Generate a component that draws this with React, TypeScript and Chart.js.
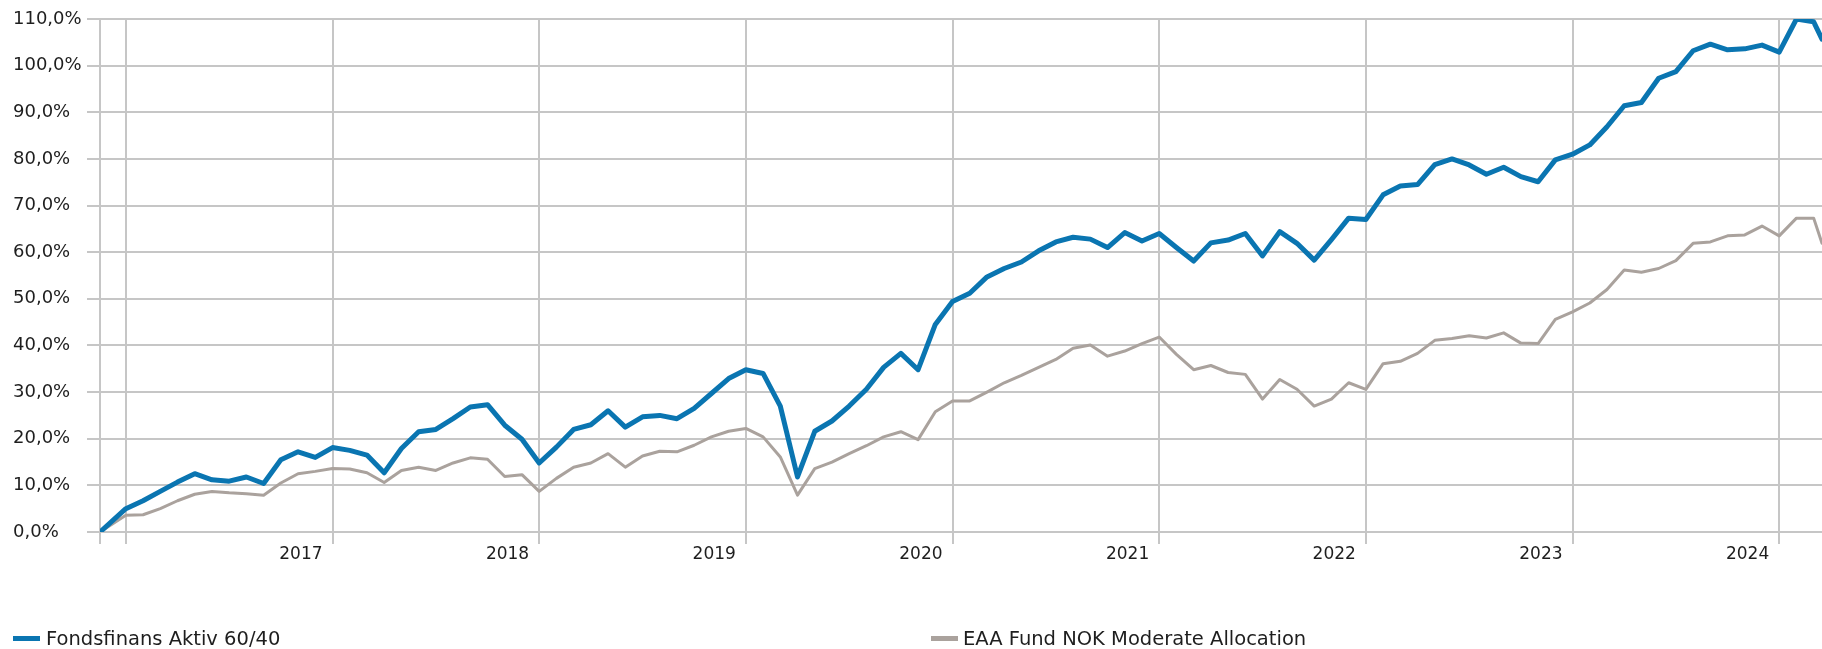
import React, { useEffect, useRef } from 'react';
import { Chart, registerables } from 'chart.js';

Chart.register(...registerables);

// ---- data ----
const seriesNames = ['Fondsfinans Aktiv 60/40', 'EAA Fund NOK Moderate Allocation'];

const dates = [
  '2015-11-15', '2015-12-31',
  '2016-01-31', '2016-02-29', '2016-03-31', '2016-04-30', '2016-05-31', '2016-06-30', '2016-07-31', '2016-08-31', '2016-09-30', '2016-10-31', '2016-11-30', '2016-12-31',
  '2017-01-31', '2017-02-28', '2017-03-31', '2017-04-30', '2017-05-31', '2017-06-30', '2017-07-31', '2017-08-31', '2017-09-30', '2017-10-31', '2017-11-30', '2017-12-31',
  '2018-01-31', '2018-02-28', '2018-03-31', '2018-04-30', '2018-05-31', '2018-06-30', '2018-07-31', '2018-08-31', '2018-09-30', '2018-10-31', '2018-11-30', '2018-12-31',
  '2019-01-31', '2019-02-28', '2019-03-31', '2019-04-30', '2019-05-31', '2019-06-30', '2019-07-31', '2019-08-31', '2019-09-30', '2019-10-31', '2019-11-30', '2019-12-31',
  '2020-01-31', '2020-02-29', '2020-03-31', '2020-04-30', '2020-05-31', '2020-06-30', '2020-07-31', '2020-08-31', '2020-09-30', '2020-10-31', '2020-11-30', '2020-12-31',
  '2021-01-31', '2021-02-28', '2021-03-31', '2021-04-30', '2021-05-31', '2021-06-30', '2021-07-31', '2021-08-31', '2021-09-30', '2021-10-31', '2021-11-30', '2021-12-31',
  '2022-01-31', '2022-02-28', '2022-03-31', '2022-04-30', '2022-05-31', '2022-06-30', '2022-07-31', '2022-08-31', '2022-09-30', '2022-10-31', '2022-11-30', '2022-12-31',
  '2023-01-31', '2023-02-28', '2023-03-31', '2023-04-30', '2023-05-31', '2023-06-30', '2023-07-31', '2023-08-31', '2023-09-30', '2023-10-31', '2023-11-30', '2023-12-31',
  '2024-01-31', '2024-02-29', '2024-03-15',
];

const fondsfinans = [
  0, 5.0,
  6.7, 8.7, 10.7, 12.5, 11.2, 10.9, 11.8, 10.4, 15.5, 17.2, 16.0, 18.1,
  17.5, 16.5, 12.7, 17.9, 21.5, 22.0, 24.3, 26.8, 27.3, 22.9, 19.9, 14.8,
  18.2, 22.0, 23.0, 26.0, 22.5, 24.7, 25.0, 24.3, 26.5, 29.7, 32.9, 34.8,
  34.0, 27.0, 11.8, 21.6, 23.8, 27.0, 30.6, 35.3, 38.3, 34.8, 44.5, 49.4,
  51.2, 54.7, 56.5, 57.9, 60.3, 62.2, 63.2, 62.8, 61.0, 64.2, 62.4, 64.0,
  61.0, 58.1, 62.0, 62.6, 64.0, 59.2, 64.4, 61.9, 58.3, 62.7, 67.3, 67.0,
  72.3, 74.2, 74.5, 78.8, 80.0, 78.7, 76.7, 78.2, 76.2, 75.1, 79.8, 81.0,
  83.0, 86.9, 91.4, 92.1, 97.3, 98.7, 103.2, 104.6, 103.4, 103.6, 104.4, 102.9,
  110.0, 109.4, 105.7,
];

const eaaModerate = [
  0, 3.6,
  3.7, 5.0, 6.7, 8.1, 8.7, 8.4, 8.2, 7.9, 10.5, 12.5, 13.0, 13.6,
  13.5, 12.7, 10.6, 13.2, 13.9, 13.2, 14.8, 15.9, 15.6, 11.9, 12.3, 8.7,
  11.5, 13.9, 14.8, 16.8, 13.9, 16.3, 17.3, 17.2, 18.6, 20.4, 21.6, 22.2,
  20.4, 16.1, 7.9, 13.6, 15.0, 16.8, 18.5, 20.4, 21.5, 19.8, 25.8, 28.1,
  28.1, 30.0, 32.0, 33.6, 35.3, 37.0, 39.4, 40.1, 37.7, 38.8, 40.4, 41.8,
  38.1, 34.8, 35.7, 34.2, 33.8, 28.5, 32.7, 30.6, 27.0, 28.5, 32.0, 30.6,
  36.1, 36.6, 38.3, 41.1, 41.5, 42.1, 41.6, 42.7, 40.5, 40.4, 45.6, 47.2,
  49.1, 52.0, 56.2, 55.7, 56.5, 58.2, 61.9, 62.2, 63.5, 63.7, 65.6, 63.5,
  67.3, 67.3, 61.9,
];

const yearTicks = [2016, 2017, 2018, 2019, 2020, 2021, 2022, 2023, 2024];
const yMin = 0;
const yMax = 110;
const yStep = 10;

// ---- styling ----
const BLUE = '#0a75b1';
const GRAY = '#aaa29d';
const GRID = '#c6c6c6';
const TEXT = '#1e1e1e';
const FONT = "'DejaVu Sans', Verdana, sans-serif";

// months since 2016-01-01 (fractional)
function monthPos(d: string): number {
  const [y, m, day] = d.split('-').map(Number);
  const dim = new Date(Date.UTC(y, m, 0)).getUTCDate();
  return (y - 2016) * 12 + (m - 1) + day / dim;
}

export default function App() {
  const canvasRef = useRef<HTMLCanvasElement | null>(null);

  useEffect(() => {
    document.body.style.margin = '0';
    const canvas = canvasRef.current;
    if (!canvas) return;
    const xs = dates.map(monthPos);
    const xMin = xs[0];
    const xMax = xs[xs.length - 1];

    const chart = new Chart(canvas, {
      type: 'line',
      data: {
        datasets: [
          {
            label: seriesNames[0],
            data: xs.map((x, i) => ({ x, y: fondsfinans[i] })),
            borderColor: BLUE,
            backgroundColor: BLUE,
            borderWidth: 5,
            pointRadius: 0,
            tension: 0,
            borderJoinStyle: 'round',
            borderCapStyle: 'round',
          },
          {
            label: seriesNames[1],
            data: xs.map((x, i) => ({ x, y: eaaModerate[i] })),
            borderColor: GRAY,
            backgroundColor: GRAY,
            borderWidth: 3,
            pointRadius: 0,
            tension: 0,
            borderJoinStyle: 'round',
            borderCapStyle: 'round',
          },
        ],
      },
      options: {
        responsive: false,
        animation: false,
        devicePixelRatio: 1,
        layout: { padding: { left: 13, top: 19, right: 0, bottom: 0 } },
        plugins: { legend: { display: false }, tooltip: { enabled: false } },
        scales: {
          x: {
            type: 'linear',
            min: xMin,
            max: xMax,
            afterBuildTicks: (s: any) => {
              s.ticks = [xMin, ...yearTicks.map((y) => (y - 2016) * 12)].map((v) => ({ value: v }));
            },
            afterFit: (s: any) => {
              s.height = 117;
            },
            grid: { color: GRID, lineWidth: 2, tickLength: 12 },
            border: { display: false },
            ticks: {
              autoSkip: false,
              maxRotation: 0,
              minRotation: 0,
              align: 'end',
              labelOffset: -10,
              padding: 0,
              color: TEXT,
              font: { family: FONT, size: 17 },
              callback: (v: any) => {
                const yr = 2016 + Number(v) / 12;
                return Number.isInteger(yr) && yr > yearTicks[0] ? String(yr) : '';
              },
            },
          },
          y: {
            min: yMin,
            max: yMax,
            afterFit: (s: any) => {
              s.width = 87;
            },
            grid: { color: GRID, lineWidth: 2, tickLength: 13 },
            border: { display: false },
            ticks: {
              stepSize: yStep,
              crossAlign: 'far',
              padding: 0,
              color: TEXT,
              font: { family: FONT, size: 18 },
              callback: (v: any) => Number(v).toFixed(1).replace('.', ',') + '%',
            },
          },
        },
      },
    } as any);
    return () => chart.destroy();
  }, []);

  const legendText: React.CSSProperties = {
    position: 'absolute',
    top: 629,
    fontFamily: FONT,
    fontSize: 19.5,
    lineHeight: '19px',
    whiteSpace: 'nowrap',
    color: TEXT,
  };

  return (
    <div style={{ position: 'relative', width: 1822, height: 649, overflow: 'hidden' }}>
      <canvas ref={canvasRef} width={1822} height={649} style={{ display: 'block', width: 1822, height: 649 }} />
      <div style={{ position: 'absolute', left: 13, top: 636, width: 27, height: 5, background: BLUE }} />
      <div style={{ ...legendText, left: 46 }}>{seriesNames[0]}</div>
      <div style={{ position: 'absolute', left: 931, top: 636, width: 27, height: 5, background: GRAY }} />
      <div style={{ ...legendText, left: 963 }}>{seriesNames[1]}</div>
    </div>
  );
}
